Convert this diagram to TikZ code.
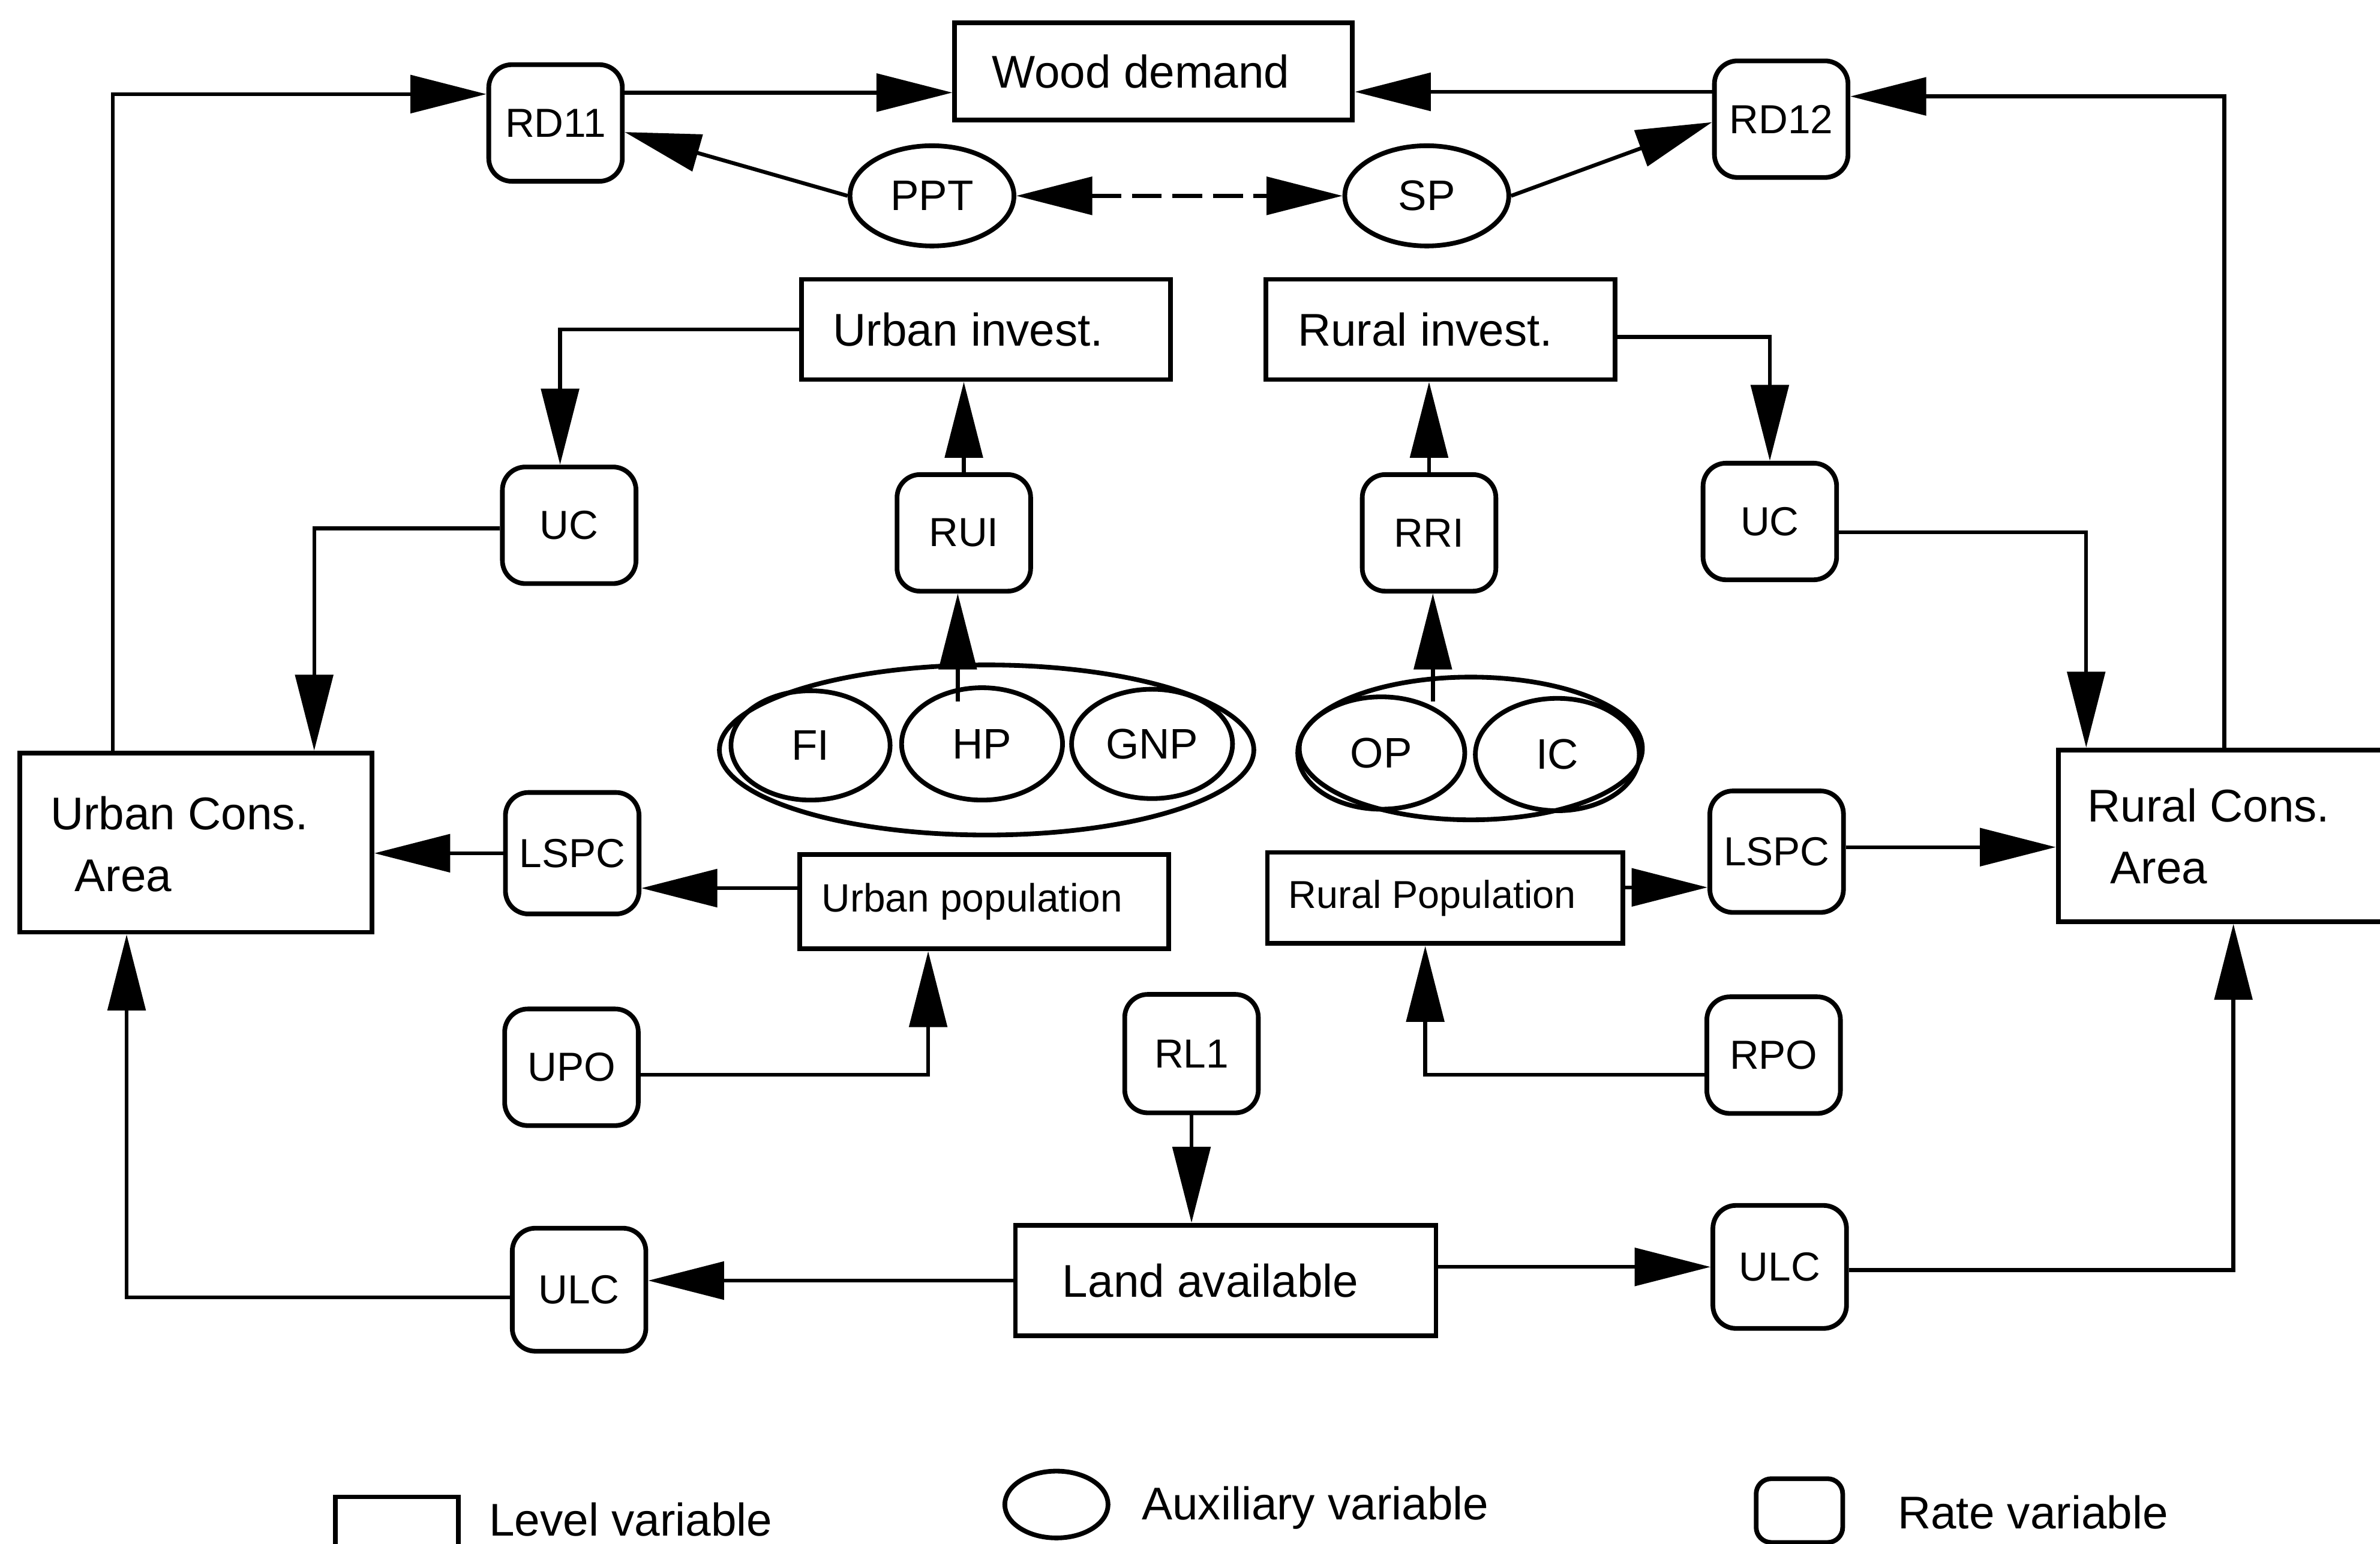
\documentclass[tikz,border=0pt]{standalone}
\usepackage{fontspec}
\setmainfont{Liberation Sans}
\usetikzlibrary{arrows.meta,shapes.geometric,calc}
\begin{document}
\begin{tikzpicture}[x=0.025cm,y=-0.025cm,
  lvl/.style={draw,line width=2.2pt,rectangle,inner sep=0pt,font=\fontsize{21.5}{26}\selectfont},
  rate/.style={draw,line width=2.2pt,rectangle,rounded corners=0.38cm,inner sep=0pt,minimum width=2.2cm,minimum height=1.92cm,font=\fontsize{19}{23}\selectfont},
  aux/.style={draw,line width=2.2pt,ellipse,inner sep=0pt,font=\fontsize{20}{24}\selectfont},
  txt/.style={inner sep=0pt,anchor=west,align=left,font=\fontsize{21.5}{29}\selectfont},
  conn/.style={line width=1.8pt},
  arr/.style={conn,-{Triangle[length=1.25cm,width=0.62cm]}},
  darr/.style={conn,{Triangle[length=1.25cm,width=0.62cm]}-{Triangle[length=1.25cm,width=0.62cm]}},
]
\useasboundingbox (0,0) rectangle (1568,1017);

% top row
\node[rate] (rd11) at (366,81) {RD11};
\node[lvl,minimum width=6.55cm,minimum height=1.6cm] (wd) at (760,47) {Wood demand\hspace*{0.42cm}};
\node[rate] (rd12) at (1173.5,78.5) {RD12};
\node[aux,minimum width=2.7cm,minimum height=1.65cm] (ppt) at (614,129) {PPT};
\node[aux,minimum width=2.7cm,minimum height=1.65cm] (sp) at (940,129) {SP};

% investment row
\node[lvl,minimum width=6.075cm,minimum height=1.65cm] (uinv) at (649.5,217) {Urban invest.\hspace*{0.58cm}};
\node[lvl,minimum width=5.75cm,minimum height=1.65cm] (rinv) at (949,217) {Rural invest.\hspace*{0.5cm}};
\node[rate] (ucl) at (375,346) {UC};
\node[rate] (rui) at (635,351) {RUI};
\node[rate] (rri) at (941.5,351) {RRI};
\node[rate] (ucr) at (1166,343.5) {UC};

% auxiliary groups
\node[aux,minimum width=8.8cm,minimum height=2.8cm] (gl) at (650,494) {};
\node[aux,minimum width=2.62cm,minimum height=1.8cm] (fi) at (534,491) {FI};
\node[aux,minimum width=2.65cm,minimum height=1.85cm] (hp) at (647,490) {HP};
\node[aux,minimum width=2.65cm,minimum height=1.8cm] (gnp) at (759,490) {GNP};
\node[aux,minimum width=5.65cm,minimum height=2.35cm] (gr) at (969,493) {};
\node[aux,minimum width=2.75cm,minimum height=1.85cm] (op) at (910,496) {OP};
\node[aux,minimum width=2.7cm,minimum height=1.85cm] (ic) at (1026,497) {IC};

% construction areas
\node[lvl,minimum width=5.8cm,minimum height=2.95cm] (uca) at (129,555) {};
\node[txt] (ucatxt) at (33,556) {Urban Cons.\\\hspace*{0.4cm}Area};
\node[lvl,minimum width=6.25cm,minimum height=2.825cm] (rca) at (1481,550.5) {};
\node[txt] (rcatxt) at (1375,551) {Rural Cons.\\\hspace*{0.38cm}Area};

% population row
\node[rate,minimum height=2cm] (lspcl) at (377,562) {LSPC};
\node[lvl,minimum width=6.075cm,minimum height=1.55cm,font=\fontsize{18.5}{22}\selectfont] (upop) at (648.5,594) {Urban population\hspace*{0.4cm}};
\node[rate] (upo) at (376.5,703) {UPO};
\node[lvl,minimum width=5.85cm,minimum height=1.5cm,font=\fontsize{18.2}{22}\selectfont] (rpop) at (952,591.5) {Rural Population\hspace*{0.42cm}};
\node[rate,minimum height=2cm] (lspcr) at (1170.5,561) {LSPC};
\node[rate] (rpo) at (1168.5,695) {RPO};

% land row
\node[rate,minimum height=1.95cm] (rl1) at (785,694) {RL1};
\node[lvl,minimum width=6.925cm,minimum height=1.825cm] (land) at (807.5,843.5) {Land available\hspace*{0.5cm}};
\node[rate,minimum height=2.025cm] (ulcl) at (381.5,849.5) {ULC};
\node[rate,minimum height=2.025cm] (ulcr) at (1172.5,834.5) {ULC};

% legend
\node[lvl,minimum width=2.02cm,minimum height=0.85cm] (leglvl) at (261.5,1003) {};
\node[txt] (leglvltxt) at (322,1001) {Level variable};
\node[aux,minimum width=1.7cm,minimum height=1.1cm] (legaux) at (696,991) {};
\node[txt] (legauxtxt) at (752,993) {Auxiliary variable};
\node[rate,minimum width=1.425cm,minimum height=1.05cm,rounded corners=0.25cm] (legrate) at (1185.5,995) {};
\node[txt] (legratetxt) at (1250,996) {Rate variable};

% helper coordinates
\coordinate (a1) at ($(rd11.east)+(0,-20)$);
\coordinate (a2) at ($(rd12.west)+(0,-18)$);
\coordinate (a3) at ($(upop.west)+(0,-9)$);
\coordinate (a4) at ($(rpop.east)+(0,-7)$);
\coordinate (a5) at ($(lspcr.east)+(0,-3)$);
\coordinate (a6) at ($(land.east)+(0,-9)$);
\coordinate (hpt) at (631,462);
\coordinate (opt) at (944,462);

% connectors: top
\draw[arr] ($(uca.north west)+(63,0)$) |- ($(rd11.west)+(0,-19)$);
\draw[arr] (a1) -- (a1 -| wd.west);
\draw[arr] (a2) -- (a2 -| wd.east);
\draw[arr] ($(rca.north west)+(111,0)$) |- ($(rd12.east)+(0,-15)$);
\draw[arr] (ppt.west) -- ($(rd11.east)+(0,6)$);
\draw[arr] (sp.east) -- ($(rd12.west)+(0,2)$);
\draw[darr,dash pattern=on 14pt off 5pt] (ppt.east) -- (sp.west);

% connectors: investment
\draw[arr] (uinv.west) -| ($(ucl.north)+(-6,0)$);
\draw[arr] (rui.north) -- (rui.north |- uinv.south);
\draw[arr] ($(rinv.east)+(0,5)$) -| (ucr.north);
\draw[arr] (rri.north) -- (rri.north |- rinv.south);
\draw[arr] ($(ucl.west)+(0,2)$) -| ($(uca.north)+(78,0)$);
\draw[arr] ($(ucr.east)+(0,7)$) -| ($(rca.north west)+(20,0)$);
\draw[arr] (hpt) -- (hpt |- rui.south);
\draw[arr] (opt) -- (opt |- rri.south);

% connectors: population
\draw[arr] (lspcl.west) -- (lspcl.west -| uca.east);
\draw[arr] (a3) -- (a3 -| lspcl.east);
\draw[arr] ($(upo.east)+(0,5)$) -| ($(upop.south)+(-37,0)$);
\draw[arr] (a4) -- (a4 -| lspcr.west);
\draw[arr] (a5) -- (a5 -| rca.west);
\draw[arr] ($(rpo.west)+(0,13)$) -| ($(rpop.south)+(-13,0)$);

% connectors: land
\draw[arr] (rl1.south) -- (rl1.south |- land.north);
\draw[arr] (land.west) -- (land.west -| ulcl.east);
\draw[arr] ($(ulcl.west)+(0,5)$) -| ($(uca.south west)+(72,0)$);
\draw[arr] (a6) -- (a6 -| ulcr.west);
\draw[arr] ($(ulcr.east)+(0,2)$) -| ($(rca.south west)+(117,0)$);
\end{tikzpicture}
\end{document}
